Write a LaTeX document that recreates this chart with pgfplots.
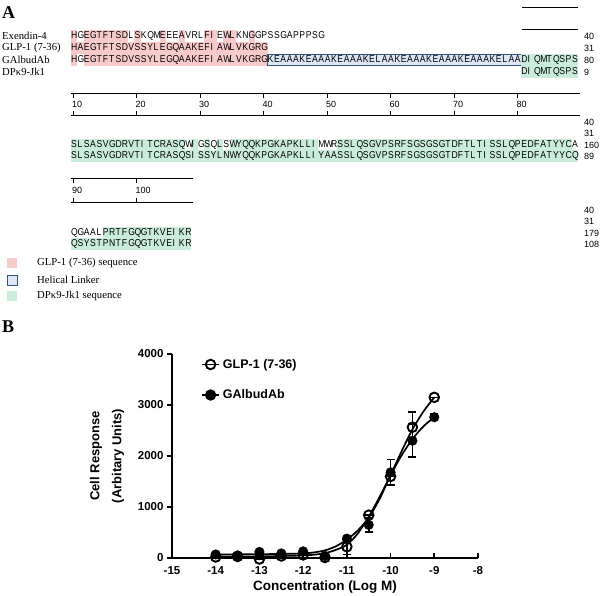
\documentclass[border=0pt]{standalone}
\usepackage{fontspec}
\setmainfont{Liberation Serif}
\setsansfont{Liberation Sans}
\usepackage{graphicx}
\usepackage{pgfplots}
\pgfplotsset{compat=1.18}
\usepackage{pgfplotstable}
\definecolor{pinkA}{RGB}{248,202,202}
\definecolor{blueA}{RGB}{220,230,244}
\definecolor{blueB}{RGB}{52,82,130}
\definecolor{greenA}{RGB}{202,236,218}

\newlength\slotw \setlength\slotw{6.34pt}
\newcommand\sq[1]{\makebox[\slotw][l]{\scalebox{0.86}[1]{#1}}}
\def\seqloop#1{\ifx\relax#1\else\sq{#1}\expandafter\seqloop\fi}
\newcommand\seqtxt[1]{\seqloop#1\relax}
\newcommand\seqfont{\sffamily\fontsize{10}{11}\selectfont}
\newcommand\numfont{\sffamily\fontsize{9}{10}\selectfont}
\newcommand\namefont{\rmfamily\fontsize{10.7}{12}\selectfont}
% band: y, start, end, colour
\newcommand\band[4]{\fill[#4] ({71+(#2-1)*6.34},{#1-5.6}) rectangle ({71+#3*6.34},{#1+5.6});}
\newcommand\seqat[3]{\node[anchor=west,inner sep=0,font=\seqfont] at ({71+(#2-1)*6.34},#1) {\seqtxt{#3}};}
\newcommand\rnum[2]{\node[anchor=west,inner sep=0,font=\numfont] at (584,#1) {#2};}

\pgfplotstableread{
x y e
-14 20 0
-13.5 30 0
-13 -20 0
-12.5 40 0
-12 60 0
-11.5 10 0
-11 220 150
-10.5 840 0
-10 1600 0
-9.5 2565 300
-9 3150 0
}\glpdata
\pgfplotstableread{
x y e
-14 70 0
-13.5 50 0
-13 120 0
-12.5 90 0
-12 130 0
-11.5 40 0
-11 380 0
-10.5 650 140
-10 1680 250
-9.5 2300 320
-9 2760 60
}\gabdata
\pgfplotstableread{
x y
-14 30
-13 33
-12.5 40
-12 50
-11.75 65
-11.5 95
-11.25 160
-11 260
-10.75 480
-10.5 810
-10.25 1200
-10 1630
-9.75 2090
-9.5 2520
-9.25 2870
-9 3150
}\glpfit
\pgfplotstableread{
x y
-14 70
-13 75
-12.5 80
-12 90
-11.75 110
-11.5 150
-11.25 230
-11 360
-10.75 540
-10.5 790
-10.25 1160
-10 1620
-9.75 2010
-9.5 2330
-9.25 2580
-9 2760
}\gabfit

\begin{document}
\begin{tikzpicture}
\path[use as bounding box] (0pt,0pt) rectangle (600pt,-595pt);
\begin{scope}[x=1pt,y=-1pt]
% panel label
\node[anchor=west,inner sep=0,font=\rmfamily\bfseries\fontsize{18}{18}\selectfont] at (2,13) {A};
\node[anchor=west,inner sep=0,font=\rmfamily\bfseries\fontsize{18}{18}\selectfont] at (2,327) {B};
% names
\node[anchor=west,inner sep=0,font=\namefont] at (2,36) {Exendin-4};
\node[anchor=west,inner sep=0,font=\namefont] at (2,48) {GLP-1 (7-36)};
\node[anchor=west,inner sep=0,font=\namefont] at (2,60) {GAlbudAb};
\node[anchor=west,inner sep=0,font=\namefont] at (2,72) {DPκ9-Jk1};
% ---- block 1 shading
\band{36}{1}{1}{pinkA}
\band{36}{3}{9}{pinkA}
\band{36}{11}{11}{pinkA}
\band{36}{15}{15}{pinkA}
\band{36}{18}{18}{pinkA}
\band{36}{22}{23}{pinkA}
\band{36}{25}{26}{pinkA}
\band{36}{29}{29}{pinkA}
\band{48}{1}{31}{pinkA}
\band{60}{1}{1}{pinkA}
\band{60}{3}{31}{pinkA}
\filldraw[fill=blueA,draw=blueB,line width=1pt] ({71+31*6.34},54.6) rectangle ({71+71*6.34},65.4);
\band{60}{72}{80}{greenA}
\band{72}{72}{80}{greenA}
\seqat{36}{1}{HGEGTFTSDLSKQMEEEAVRLFIEWLKNGGPSSGAPPPSG}
\seqat{48}{1}{HAEGTFTSDVSSYLEGQAAKEFIAWLVKGRG}
\seqat{60}{1}{HGEGTFTSDVSSYLEGQAAKEFIAWLVKGRGKEAAAKEAAAKEAAAKELAAKEAAAKEAAAKEAAAKELAADIQMTQSPS}
\seqat{72}{72}{DIQMTQSPS}
\rnum{36}{40}\rnum{48}{31}\rnum{60}{80}\rnum{72}{9}
\draw[line width=0.9pt] (522,7) -- (578,7);
\draw[line width=0.9pt] (522,29) -- (578,29);
% ---- ruler 1
\draw[line width=0.9pt] (71,93) -- (580,93);
\draw[line width=0.9pt] (71,115) -- (580,115);
\foreach \k [count=\i from 0] in {10,20,...,80}{
  \draw[line width=0.9pt] ({73+\i*63.5},93) -- ({73+\i*63.5},97.5);
  \draw[line width=0.9pt] ({73+\i*63.5},111) -- ({73+\i*63.5},115);
  \node[anchor=west,inner sep=0,font=\numfont] at ({72+\i*63.5},104) {\k};
}
% ---- block 2
\rnum{122}{40}\rnum{133}{31}
\band{145}{1}{18}{greenA}
\band{145}{20}{20}{greenA}
\band{145}{22}{22}{greenA}
\band{145}{24}{24}{greenA}
\band{145}{26}{39}{greenA}
\band{145}{43}{79}{greenA}
\band{156}{1}{80}{greenA}
\seqat{145}{1}{SLSASVGDRVTITCRASQWIGSQLSWYQQKPGKAPKLLIMWRSSLQSGVPSRFSGSGSGTDFTLTISSLQPEDFATYYCA}
\seqat{156}{1}{SLSASVGDRVTITCRASQSISSYLNWYQQKPGKAPKLLIYAASSLQSGVPSRFSGSGSGTDFTLTISSLQPEDFATYYCQ}
\rnum{145}{160}\rnum{156}{89}
% ---- ruler 2
\draw[line width=0.9pt] (71,178) -- (193,178);
\draw[line width=0.9pt] (71,202) -- (193,202);
\foreach \k [count=\i from 0] in {90,100}{
  \draw[line width=0.9pt] ({73+\i*63.5},178) -- ({73+\i*63.5},182.5);
  \draw[line width=0.9pt] ({73+\i*63.5},198) -- ({73+\i*63.5},202);
  \node[anchor=west,inner sep=0,font=\numfont] at ({72+\i*63.5},190) {\k};
}
% ---- block 3
\rnum{210}{40}\rnum{221}{31}
\band{233}{6}{19}{greenA}
\band{244}{1}{19}{greenA}
\seqat{233}{1}{QGAALPRTFGQGTKVEIKR}
\seqat{244}{1}{QSYSTPNTFGQGTKVEIKR}
\rnum{233}{179}\rnum{244}{108}
% ---- legend A
\fill[pinkA] (7,258) rectangle (17,268);
\filldraw[fill=blueA,draw=blueB,line width=1pt] (7,275) rectangle (17,285);
\fill[greenA] (7,291) rectangle (17,301);
\node[anchor=west,inner sep=0,font=\namefont] at (37,263) {GLP-1 (7-36) sequence};
\node[anchor=west,inner sep=0,font=\namefont] at (37,280) {Helical Linker};
\node[anchor=west,inner sep=0,font=\namefont] at (37,296) {DPκ9-Jk1 sequence};
\end{scope}

\begin{axis}[
  at={(172pt,-558pt)}, anchor=south west,
  scale only axis, width=306pt, height=204pt,
  xmin=-15, xmax=-8, ymin=0, ymax=4000,
  axis lines=left,
  axis line style={line width=2pt,-},
  xtick={-15,-14,-13,-12,-11,-10,-9,-8},
  xticklabels={-15,-14,-13,-12,-11,-10,-9,-8},
  ytick={0,1000,2000,3000,4000},
  yticklabels={0,1000,2000,3000,4000},
  tick align=outside,
  major tick length=5pt,
  tick style={line width=1.7pt,black},
  xtick style={yshift=5pt},
  tick label style={font=\sffamily\bfseries\fontsize{11.5}{13}\selectfont},
  xlabel={Concentration (Log M)},
  ylabel={Cell Response\\(Arbitary Units)},
  xlabel style={font=\sffamily\bfseries\fontsize{13.5}{15}\selectfont, at={(axis description cs:0.5,-0.142)}, anchor=center},
  ylabel style={font=\sffamily\bfseries\fontsize{13}{22}\selectfont, align=center, at={(axis description cs:-0.212,0.5)}, anchor=center},
  clip=false,
  legend style={at={(axis description cs:0.085,1.0)}, anchor=north west, draw=none, fill=none,
     font=\sffamily\bfseries\fontsize{12.5}{14}\selectfont, row sep=14pt,
     nodes={inner sep=3pt}},
  legend cell align=left,
]
\addplot[black, line width=1.7pt, smooth, no markers, forget plot] table[x=x,y=y]{\glpfit};
\addplot[black, line width=1.7pt, smooth, no markers, forget plot] table[x=x,y=y]{\gabfit};
\addplot[only marks, mark=*, mark size=4.8pt, black, forget plot,
  error bars/.cd, y dir=both, y explicit,
  error bar style={line width=1.6pt,black},
  error mark options={rotate=90, mark size=4pt, line width=1.6pt, black}]
  table[x=x,y=y,y error=e]{\gabdata};
\addplot[only marks, mark=o, mark size=4.8pt, line width=1.9pt, black, forget plot,
  error bars/.cd, y dir=both, y explicit,
  error bar style={line width=1.6pt,black},
  error mark options={rotate=90, mark size=4pt, line width=1.6pt, black}]
  table[x=x,y=y,y error=e]{\glpdata};
\addlegendimage{black, line width=1.7pt, mark=o, mark size=4.8pt, mark options={line width=1.9pt}}
\addlegendentry{GLP-1 (7-36)}
\addlegendimage{black, line width=1.7pt, mark=*, mark size=4.8pt}
\addlegendentry{GAlbudAb}
\end{axis}
\end{tikzpicture}
\end{document}
